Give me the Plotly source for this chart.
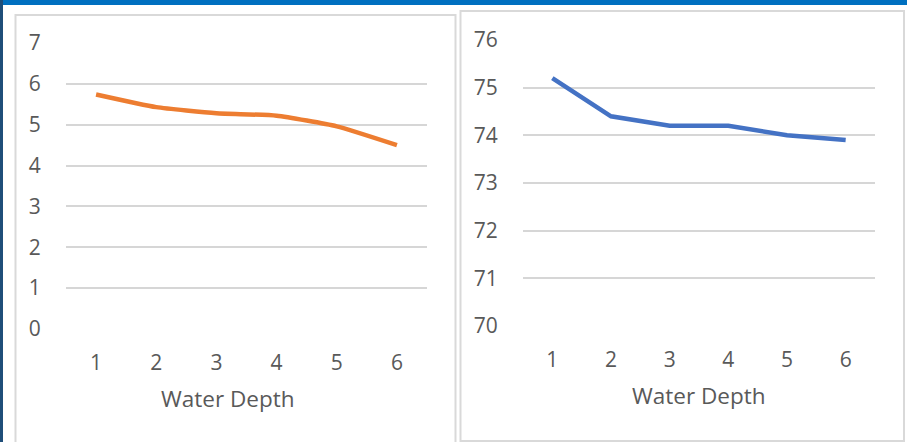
import plotly.graph_objects as go

depth = [1, 2, 3, 4, 5, 6]
left_values = [5.74, 5.43, 5.28, 5.22, 4.96, 4.50]
right_values = [75.2, 74.4, 74.2, 74.2, 74.0, 73.9]
left_ticks = [0, 1, 2, 3, 4, 5, 6, 7]
right_ticks = [70, 71, 72, 73, 74, 75, 76]
x_title = "Water Depth"

W, H = 907, 442
FONT = "Open Sans, Liberation Sans, sans-serif"
TXT = "#595959"
GRID = "#D6D6D6"

def px(x):
    return x / W

def py(y):
    return 1 - y / H

fig = go.Figure()
fig.add_trace(go.Scatter(x=depth, y=left_values, mode="lines",
                         line=dict(color="#ED7D31", width=4.5, shape="spline", smoothing=0.5),
                         xaxis="x", yaxis="y", showlegend=False))
fig.add_trace(go.Scatter(x=depth, y=right_values, mode="lines",
                         line=dict(color="#4472C4", width=4.5),
                         xaxis="x2", yaxis="y2", showlegend=False))

xcommon = dict(range=[0.5, 6.5], tickvals=depth, ticktext=[str(d) for d in depth],
               showgrid=False, zeroline=False, showline=False, automargin=False,
               ticks="outside", ticklen=15, tickcolor="rgba(0,0,0,0)",
               tickfont=dict(family=FONT, size=21, color=TXT), fixedrange=True)
ycommon = dict(showgrid=True, gridcolor=GRID, gridwidth=1.5, zeroline=False, showline=False,
               automargin=False,
               ticks="outside", ticklen=20, tickcolor="rgba(0,0,0,0)",
               tickfont=dict(family=FONT, size=21, color=TXT), fixedrange=True)

fig.update_layout(
    width=W, height=H, autosize=False,
    margin=dict(l=0, r=0, t=0, b=0, pad=0, autoexpand=False),
    paper_bgcolor="white", plot_bgcolor="white",
    xaxis=dict(domain=[px(66), px(427)], anchor="y", **xcommon),
    yaxis=dict(domain=[py(329), py(43)], anchor="x", range=[0, 7], tickvals=left_ticks, **ycommon),
    xaxis2=dict(domain=[px(523), px(875)], anchor="y2", **xcommon),
    yaxis2=dict(domain=[py(326), py(40)], anchor="x2", range=[70, 76], tickvals=right_ticks, **ycommon),
)

annotations = [
    dict(x=px(228), y=py(398), xref="paper", yref="paper", text=x_title, showarrow=False,
         xanchor="center", yanchor="middle", font=dict(family=FONT, size=22.5, color=TXT)),
    dict(x=px(699), y=py(395), xref="paper", yref="paper", text=x_title, showarrow=False,
         xanchor="center", yanchor="middle", font=dict(family=FONT, size=22.5, color=TXT)),
]
fig.update_layout(annotations=annotations)

shapes = [
    dict(type="rect", xref="paper", yref="paper", x0=px(15.5), x1=px(455.5), y0=py(445), y1=py(15),
         line=dict(color="#D9D9D9", width=2), fillcolor="rgba(0,0,0,0)", layer="below"),
    dict(type="rect", xref="paper", yref="paper", x0=px(460.5), x1=px(904), y0=py(441), y1=py(11),
         line=dict(color="#D9D9D9", width=2), fillcolor="rgba(0,0,0,0)", layer="below"),
    dict(type="rect", xref="paper", yref="paper", x0=0, x1=1, y0=py(5), y1=1,
         line=dict(width=0), fillcolor="#0070C0"),
    dict(type="rect", xref="paper", yref="paper", x0=0, x1=px(3), y0=0, y1=1,
         line=dict(width=0), fillcolor="#1F4E79"),
]
fig.update_layout(shapes=shapes)

fig.write_html("out.html", config={"responsive": False, "displayModeBar": False},
               post_script="document.body.style.margin='0';document.body.style.padding='0';"
                           "document.body.style.overflow='hidden';")
